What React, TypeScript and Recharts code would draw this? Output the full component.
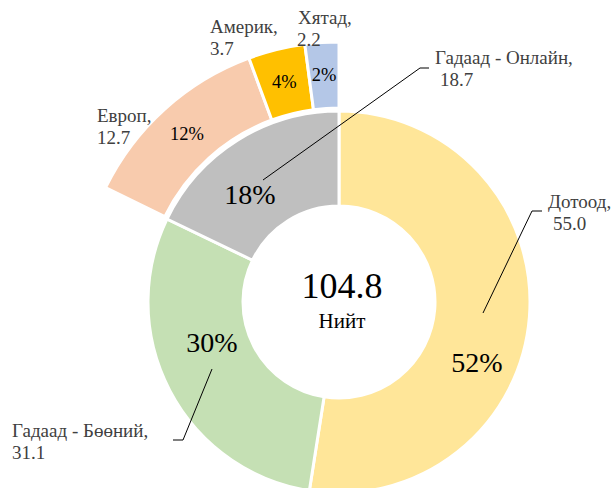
import React from "react";
import { PieChart, Pie, Cell, Label } from "recharts";

const channelNames = ["Дотоод", "Гадаад - Бөөний", "Гадаад - Онлайн"];
const channelValues = [55.0, 31.1, 18.7];
const onlineNames = ["Европ", "Америк", "Хятад"];
const onlineValues = [12.7, 3.7, 2.2];
const centerCaption = "Нийт";

const channelColors = ["#FFE699", "#C5E0B4", "#BFBFBF"];
const onlineColors = ["#F8CBAD", "#FFC000", "#B4C7E7"];

const channelData = channelNames.map((name, i) => ({ name, value: channelValues[i] }));
const onlineData = onlineNames.map((name, i) => ({ name, value: onlineValues[i] }));
const total = channelValues.reduce((a, b) => a + b, 0);
const onlineTotal = onlineValues.reduce((a, b) => a + b, 0);

const CX = 339;
const CY = 302;
const RAD = Math.PI / 180;
const FONT = "'Liberation Serif', 'Times New Roman', serif";
const LABEL_COLOR = "#404040";

// hand placed labels (offsets from the centre), like the moved labels in the original
const channelLabelLayout = [
  { pct: [138, 60], line: [[144, 11], [193, -91], [203, -91]], text: [209, -94], indent: 5 },
  { pct: [-127, 40], line: [[-127, 67], [-156, 138], [-166, 138]], text: [-327, 135], indent: 0 },
  { pct: [-89, -108], line: [[-76, -122], [81, -234], [90, -234]], text: [96, -238], indent: 5 },
];
const onlineLabelLayout = [
  { text: [-242, -180], indent: 0 },
  { text: [-129, -269], indent: 0 },
  { text: [-41, -278], indent: -1 },
];

const pctText = (v: number) => `${Math.round((v / total) * 100)}%`;

const txt = (size: number, color: string) => ({ fontFamily: FONT, fontSize: size, fill: color });

const renderChannelLabel = (props: any) => {
  const { index } = props;
  const cx = Number(props.cx ?? CX);
  const cy = Number(props.cy ?? CY);
  const l = channelLabelLayout[index];
  const v = channelValues[index];
  const pts = l.line.map(([x, y]) => `${cx + x},${cy + y}`).join(" ");
  return (
    <g key={`cl-${index}`}>
      <text x={cx + l.pct[0]} y={cy + l.pct[1]} textAnchor="middle" dominantBaseline="central"
        style={txt(28, "#000")}>{pctText(v)}</text>
      <polyline points={pts} fill="none" stroke="#000" strokeWidth={1} />
      <text x={cx + l.text[0]} y={cy + l.text[1]} style={txt(19, LABEL_COLOR)}>
        <tspan>{`${channelNames[index]},`}</tspan>
        <tspan x={cx + l.text[0] + l.indent} dy={22}>{v.toFixed(1)}</tspan>
      </text>
    </g>
  );
};

const renderOnlineLabel = (props: any) => {
  const { index, midAngle, innerRadius, outerRadius } = props;
  const cx = Number(props.cx ?? CX);
  const cy = Number(props.cy ?? CY);
  const r = (Number(innerRadius) + Number(outerRadius)) / 2;
  const x = cx + r * Math.cos(-midAngle * RAD);
  const y = cy + r * Math.sin(-midAngle * RAD);
  const l = onlineLabelLayout[index];
  const v = onlineValues[index];
  return (
    <g key={`ol-${index}`}>
      <text x={x} y={y} textAnchor="middle" dominantBaseline="central" style={txt(18.5, "#000")}>
        {pctText(v)}
      </text>
      <text x={cx + l.text[0]} y={cy + l.text[1]} style={txt(19, LABEL_COLOR)}>
        <tspan>{`${onlineNames[index]},`}</tspan>
        <tspan x={cx + l.text[0] + l.indent} dy={22}>{v.toFixed(1)}</tspan>
      </text>
    </g>
  );
};

const renderCenter = (props: any) => {
  const vb = props.viewBox || {};
  const cx = Number(vb.cx ?? CX);
  const cy = Number(vb.cy ?? CY);
  return (
    <g>
      <text x={cx + 3} y={cy - 4} textAnchor="middle" style={txt(36, "#000")}>
        {total.toFixed(1)}
      </text>
      <text x={cx + 3} y={cy + 26} textAnchor="middle" style={txt(21, "#000")}>
        {centerCaption}
      </text>
    </g>
  );
};

export default function App() {
  const outerStart = 90 + (onlineTotal / total) * 360;
  return (
    <div>
      <style>{`body { margin: 0; }`}</style>
      <PieChart width={613} height={488} margin={{ top: 0, right: 0, bottom: 0, left: 0 }}>
        <Pie
          data={channelData}
          dataKey="value"
          nameKey="name"
          cx={CX}
          cy={CY}
          innerRadius={96}
          outerRadius={191}
          startAngle={90}
          endAngle={-270}
          stroke="#fff"
          strokeWidth={3}
          labelLine={false}
          label={renderChannelLabel}
          isAnimationActive={false}
        >
          {channelData.map((d, i) => (
            <Cell key={d.name} fill={channelColors[i]} />
          ))}
          <Label position="center" content={renderCenter} />
        </Pie>
        <Pie
          data={onlineData}
          dataKey="value"
          nameKey="name"
          cx={CX}
          cy={CY}
          innerRadius={194}
          outerRadius={260}
          startAngle={outerStart}
          endAngle={90}
          stroke="#fff"
          strokeWidth={3}
          labelLine={false}
          label={renderOnlineLabel}
          isAnimationActive={false}
        >
          {onlineData.map((d, i) => (
            <Cell key={d.name} fill={onlineColors[i]} />
          ))}
        </Pie>
      </PieChart>
    </div>
  );
}
